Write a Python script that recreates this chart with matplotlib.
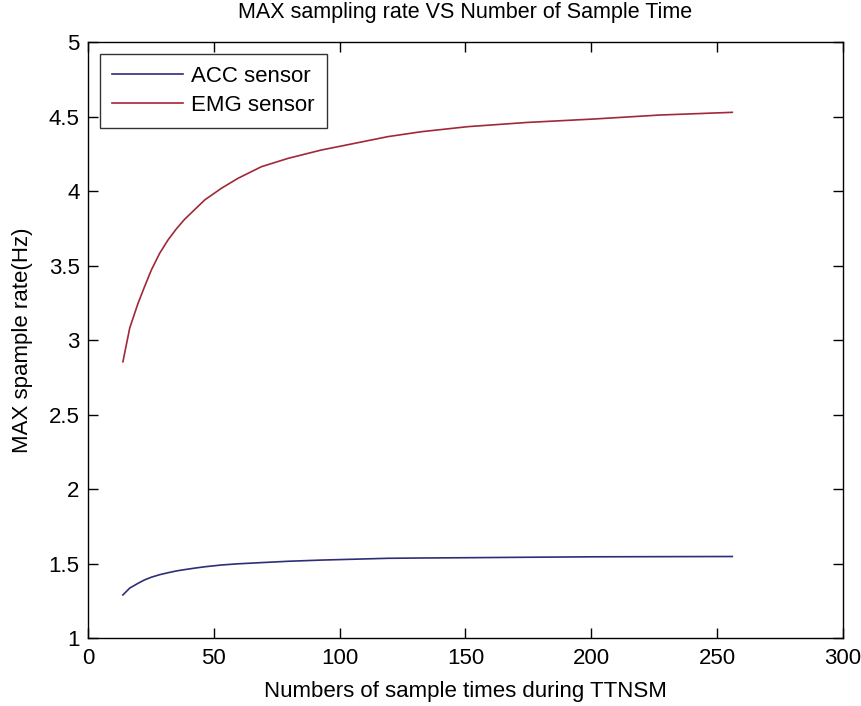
import matplotlib
matplotlib.use('Agg')
from matplotlib import pyplot as plt

# valores
n_samples = [13.9, 16.6, 19.9, 22.5, 25.2, 28.5, 31.8, 35.1, 38.4, 42.4, 46.4, 53, 59.6,
             68.9, 79.5, 92.7, 106, 119.2, 132.5, 151, 174.3, 200.8, 227.3, 256]
acc_rate = [1.289, 1.335, 1.367, 1.390, 1.408, 1.425, 1.438, 1.450, 1.459, 1.469, 1.478, 1.490, 1.498,
            1.506, 1.515, 1.523, 1.529, 1.535, 1.537, 1.539, 1.542, 1.545, 1.546, 1.547]
emg_rate = [2.854, 3.080, 3.246, 3.358, 3.470, 3.582, 3.671, 3.745, 3.810, 3.875, 3.940, 4.018, 4.085,
            4.163, 4.219, 4.275, 4.320, 4.365, 4.398, 4.432, 4.460, 4.483, 4.510, 4.528]

xticks = [0, 50, 100, 150, 200, 250, 300]
yticks = [1, 1.5, 2, 2.5, 3, 3.5, 4, 4.5, 5]
ytick_labels = ['1', '1.5', '2', '2.5', '3', '3.5', '4', '4.5', '5']

plt.rcParams['font.family'] = ['Liberation Sans', 'DejaVu Sans']

fig = plt.figure(figsize=(8.62, 7.06), dpi=100)
ax = fig.add_axes([0.102, 0.0963, 0.876, 0.8442])

ax.plot(n_samples, acc_rate, color='#2e2e78', lw=1.2, label='ACC sensor')
ax.plot(n_samples, emg_rate, color='#a02838', lw=1.2, label='EMG sensor')

ax.set_xlim(0, 300)
ax.set_ylim(1, 5)
ax.set_xticks(xticks)
ax.set_xticklabels([str(t) for t in xticks])
ax.set_yticks(yticks)
ax.set_yticklabels(ytick_labels)
ax.tick_params(direction='in', length=7, labelsize=16, top=True, right=True, width=1)
ax.tick_params(axis='x', pad=7)
ax.tick_params(axis='y', pad=6)
for s in ax.spines.values():
    s.set_linewidth(1)

ax.set_title('MAX sampling rate VS Number of Sample Time', fontsize=15.5, pad=17)
ax.set_xlabel('Numbers of sample times during TTNSM', fontsize=16, labelpad=9)
ax.set_ylabel('MAX spample rate(Hz)', fontsize=16, labelpad=11)

leg = ax.legend(loc='upper left', bbox_to_anchor=(0.016, 0.98), fontsize=16,
                frameon=True, fancybox=False, borderaxespad=0, handlelength=3.2,
                handletextpad=0.35, borderpad=0.55, labelspacing=0.35)
leg.get_frame().set_edgecolor('black')
leg.get_frame().set_linewidth(1)

fig.savefig('out.png', dpi=100)
